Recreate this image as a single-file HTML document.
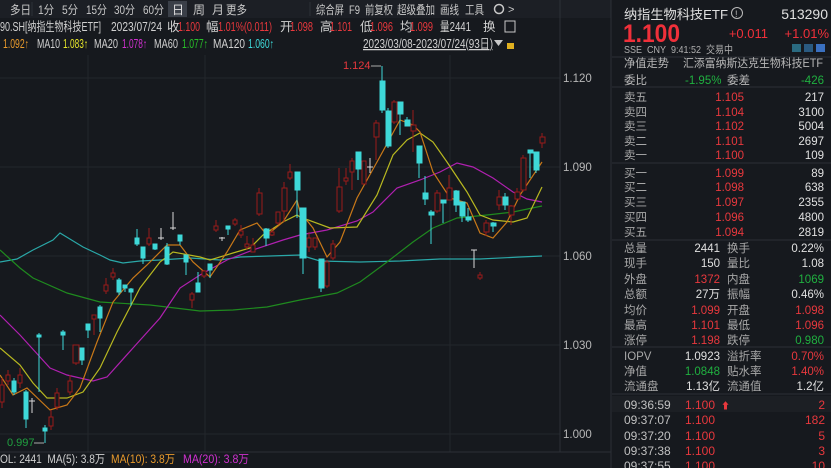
<!DOCTYPE html>
<html><head><meta charset="utf-8">
<style>
html,body{margin:0;padding:0;background:#16191e;width:831px;height:468px;overflow:hidden}
svg{display:block}
text{font-family:"Liberation Sans","Noto Sans CJK SC",sans-serif}
</style></head><body>
<svg width="831" height="468" viewBox="0 0 831 468" xmlns="http://www.w3.org/2000/svg">
<rect width="831" height="468" fill="#16191e"/>
<!-- toolbar -->
<rect x="0" y="0" width="611" height="18" fill="#1c1f25"/>
<rect x="168" y="1" width="19" height="16" fill="#3a3f48"/>
<g font-size="12" fill="#c8c8c8">
<text x="10" y="14" textLength="21" lengthAdjust="spacingAndGlyphs">多日</text>
<text x="38" y="14" textLength="16" lengthAdjust="spacingAndGlyphs">1分</text>
<text x="62" y="14" textLength="16" lengthAdjust="spacingAndGlyphs">5分</text>
<text x="86" y="14" textLength="21" lengthAdjust="spacingAndGlyphs">15分</text>
<text x="114" y="14" textLength="21" lengthAdjust="spacingAndGlyphs">30分</text>
<text x="143" y="14" textLength="21" lengthAdjust="spacingAndGlyphs">60分</text>
<text x="172" y="14" fill="#e0e0e0">日</text>
<text x="193" y="14">周</text><text x="212" y="14">月</text>
<text x="226" y="14" textLength="21" lengthAdjust="spacingAndGlyphs">更多</text>
<text x="316" y="14" textLength="28" lengthAdjust="spacingAndGlyphs">综合屏</text>
<text x="349" y="14" textLength="11" lengthAdjust="spacingAndGlyphs">F9</text>
<text x="365" y="14" textLength="28" lengthAdjust="spacingAndGlyphs">前复权</text>
<text x="397" y="14" textLength="38" lengthAdjust="spacingAndGlyphs">超级叠加</text>
<text x="440" y="14" textLength="19" lengthAdjust="spacingAndGlyphs">画线</text>
<text x="465" y="14" textLength="19" lengthAdjust="spacingAndGlyphs">工具</text>
</g>
<line x1="32" y1="2" x2="32" y2="16" stroke="#2c3036"/><line x1="310" y1="2" x2="310" y2="16" stroke="#2c3036"/>
<circle cx="499" cy="9" r="4.5" fill="none" stroke="#c8c8c8" stroke-width="1.5"/>
<text x="508" y="13" font-size="11" fill="#c8c8c8">&gt;</text>
<!-- info rows -->
<g font-size="12.5">
<text x="0" y="31" fill="#d0d0d0" textLength="101" lengthAdjust="spacingAndGlyphs">90.SH[纳指生物科技ETF]</text>
<text x="111" y="31" fill="#d0d0d0" textLength="51" lengthAdjust="spacingAndGlyphs">2023/07/24</text>
<text x="167" y="31" fill="#d0d0d0">收</text><text x="178" y="31" fill="#e8383d" textLength="22" lengthAdjust="spacingAndGlyphs">1.100</text>
<text x="206" y="31" fill="#d0d0d0">幅</text><text x="218" y="31" fill="#e8383d" textLength="54" lengthAdjust="spacingAndGlyphs">1.01%(0.011)</text>
<text x="280" y="31" fill="#d0d0d0">开</text><text x="290" y="31" fill="#e8383d" textLength="23" lengthAdjust="spacingAndGlyphs">1.098</text>
<text x="320" y="31" fill="#d0d0d0">高</text><text x="330" y="31" fill="#e8383d" textLength="22" lengthAdjust="spacingAndGlyphs">1.101</text>
<text x="360" y="31" fill="#d0d0d0">低</text><text x="370" y="31" fill="#e8383d" textLength="23" lengthAdjust="spacingAndGlyphs">1.096</text>
<text x="400" y="31" fill="#d0d0d0">均</text><text x="410" y="31" fill="#e8383d" textLength="23" lengthAdjust="spacingAndGlyphs">1.099</text>
<text x="440" y="31" fill="#d0d0d0" textLength="31" lengthAdjust="spacingAndGlyphs">量2441</text><text x="483" y="31" fill="#d0d0d0">换</text>
<text x="3" y="48" fill="#e89a2c" textLength="26" lengthAdjust="spacingAndGlyphs">1.092↑</text>
<text x="37" y="48" fill="#d0d0d0" textLength="23" lengthAdjust="spacingAndGlyphs">MA10</text><text x="63" y="48" fill="#e6e62a" textLength="25" lengthAdjust="spacingAndGlyphs">1.083↑</text>
<text x="94" y="48" fill="#d0d0d0" textLength="24" lengthAdjust="spacingAndGlyphs">MA20</text><text x="122" y="48" fill="#d030d0" textLength="25" lengthAdjust="spacingAndGlyphs">1.078↑</text>
<text x="154" y="48" fill="#d0d0d0" textLength="24" lengthAdjust="spacingAndGlyphs">MA60</text><text x="182" y="48" fill="#28c028" textLength="26" lengthAdjust="spacingAndGlyphs">1.077↑</text>
<text x="213" y="48" fill="#d0d0d0" textLength="32" lengthAdjust="spacingAndGlyphs">MA120</text><text x="248" y="48" fill="#3ed8d8" textLength="26" lengthAdjust="spacingAndGlyphs">1.060↑</text>
<text x="363" y="48" fill="#d0d0d0" text-decoration="underline" textLength="130" lengthAdjust="spacingAndGlyphs">2023/03/08-2023/07/24(93日)</text>
</g>
<rect x="505" y="21" width="10" height="11" fill="none" stroke="#c8c8c8"/>
<polygon points="494,40 503,40 498.5,46" fill="#c8c8c8"/>
<rect x="507" y="43" width="7" height="6" fill="#e0b020"/>
<!-- grid -->
<g stroke="#23262c" stroke-width="1">
<line x1="0" y1="78" x2="560" y2="78"/><line x1="0" y1="167" x2="560" y2="167"/><line x1="0" y1="256" x2="560" y2="256"/><line x1="0" y1="345" x2="560" y2="345"/><line x1="0" y1="434" x2="560" y2="434"/>
<line x1="88" y1="55" x2="88" y2="452"/><line x1="205" y1="55" x2="205" y2="452"/><line x1="450" y1="55" x2="450" y2="452"/>
</g>
<line x1="560" y1="0" x2="560" y2="452" stroke="#2c3036"/>
<line x1="0" y1="452" x2="611" y2="452" stroke="#2c3036"/>
<line x1="611" y1="0" x2="611" y2="468" stroke="#2c3036"/>
<g font-size="11.5" fill="#b8b8b8">
<text x="563" y="82">1.120</text><text x="563" y="171">1.090</text><text x="563" y="260">1.060</text><text x="563" y="349">1.030</text><text x="563" y="438">1.000</text>
</g>
<!-- MA lines -->
<g fill="none" stroke-width="1.2">
<polyline stroke="#2aa8a8" points="0,262 17,259 33,250 53,240 60,233 83,247 100,255 110,260 123,263 140,261 160,260 190,258 220,260 240,257 270,256 300,255 320,261 360,262 400,261 440,259 480,259 520,257 542,256"/>
<polyline stroke="#1f8a1f" points="0,250 20,268 33,278 67,293 100,302 150,305 200,311 233,310 267,307 300,300 337,293 360,282 387,262 413,242 433,228 457,218 487,215 513,212 542,206"/>
<polyline stroke="#b020b0" points="0,315 20,335 50,368 67,375 93,381 107,377 133,348 160,318 180,288 200,275 227,260 253,250 283,240 300,235 327,230 357,221 373,212 397,188 420,180 440,172 457,163 473,167 493,178 513,192 527,199 542,202"/>
<polyline stroke="#b8b820" points="0,348 20,365 33,383 47,398 67,398 83,392 100,368 117,332 140,288 160,262 173,252 200,257 210,260 233,253 250,248 263,235 283,222 297,215 300,217 330,228 357,227 377,195 393,155 407,140 420,133 433,142 447,162 467,192 480,215 493,220 513,222 527,218 542,187"/>
<polyline stroke="#c87818" points="0,375 13,395 27,388 50,410 67,405 80,388 97,342 113,302 133,278 147,265 167,245 180,245 193,262 210,277 227,252 240,230 257,223 267,235 283,222 297,200 300,212 313,228 327,257 340,242 357,198 377,162 400,120 413,125 420,132 433,172 450,198 467,203 480,233 493,238 507,222 520,195 542,162"/>
</g>
<!-- candles -->
<g stroke-width="1">
<g fill="#16191e" stroke="#9a1a1a">
<line x1="2" y1="378" x2="2" y2="408"/><rect x="0" y="385" width="4" height="17"/>
<line x1="8" y1="370" x2="8" y2="385"/><rect x="6" y="375" width="4" height="6"/>
<line x1="20" y1="368" x2="20" y2="388"/><rect x="18" y="375" width="4" height="8"/>
<line x1="51" y1="410" x2="51" y2="430"/><rect x="49" y="417" width="4" height="9"/>
<line x1="57" y1="388" x2="57" y2="410"/><rect x="55" y="393" width="4" height="14"/>
<line x1="70" y1="375" x2="70" y2="395"/><rect x="68" y="381" width="4" height="11"/>
<line x1="76" y1="345" x2="76" y2="365"/><rect x="73" y="345" width="6" height="18"/>
<line x1="94" y1="315" x2="94" y2="335"/><rect x="92" y="315" width="4" height="4"/>
<line x1="106" y1="278" x2="106" y2="294"/><rect x="104" y="285" width="4" height="6"/>
<line x1="113" y1="268" x2="113" y2="280"/><rect x="111" y="273" width="4" height="4"/>
<line x1="149" y1="228" x2="149" y2="246"/><rect x="147" y="238" width="4" height="6"/>
<line x1="192" y1="292" x2="192" y2="308"/><rect x="190" y="294" width="4" height="6"/>
<line x1="204" y1="270" x2="204" y2="278"/><rect x="202" y="271" width="4" height="5"/>
<line x1="216" y1="220" x2="216" y2="232"/><rect x="214" y="226" width="4" height="4"/>
<line x1="235" y1="218" x2="235" y2="226"/><rect x="233" y="220" width="4" height="4"/>
<line x1="241" y1="225" x2="241" y2="238"/><rect x="239" y="231" width="4" height="4"/>
<line x1="247" y1="236" x2="247" y2="250"/><rect x="245" y="244" width="4" height="3"/>
<line x1="253" y1="238" x2="253" y2="252"/><rect x="251" y="245" width="4" height="7"/>
<line x1="259" y1="188" x2="259" y2="216"/><rect x="257" y="193" width="5" height="21"/>
<line x1="272" y1="228" x2="272" y2="236"/><rect x="270" y="232" width="4" height="3"/>
<line x1="278" y1="212" x2="278" y2="225"/><rect x="276" y="212" width="4" height="11"/>
<line x1="284" y1="182" x2="284" y2="222"/><rect x="282" y="188" width="5" height="23"/>
<line x1="290" y1="164" x2="290" y2="180"/><rect x="288" y="172" width="4" height="6"/>
<line x1="309" y1="232" x2="309" y2="252"/><rect x="307" y="238" width="4" height="9"/>
<line x1="315" y1="238" x2="315" y2="250"/><rect x="313" y="238" width="4" height="9"/>
<line x1="327" y1="260" x2="327" y2="288"/><rect x="325" y="262" width="4" height="24"/>
<line x1="333" y1="240" x2="333" y2="260"/><rect x="331" y="244" width="4" height="14"/>
<line x1="339" y1="168" x2="339" y2="213"/><rect x="337" y="187" width="5" height="24"/>
<line x1="346" y1="168" x2="346" y2="185"/><rect x="344" y="178" width="4" height="3"/>
<line x1="352" y1="158" x2="352" y2="190"/><rect x="350" y="161" width="4" height="11"/>
<line x1="364" y1="165" x2="364" y2="180"/><rect x="362" y="161" width="4" height="23"/>
<line x1="376" y1="120" x2="376" y2="160"/><rect x="374" y="123" width="5" height="14"/>
<line x1="394" y1="100" x2="394" y2="124"/><rect x="392" y="102" width="5" height="20"/>
<line x1="413" y1="110" x2="413" y2="152"/><rect x="411" y="125" width="5" height="6"/>
<line x1="437" y1="190" x2="437" y2="213"/><rect x="435" y="193" width="5" height="18"/>
<line x1="449" y1="175" x2="449" y2="200"/><rect x="447" y="188" width="5" height="12"/>
<line x1="480" y1="272" x2="480" y2="280"/><rect x="478" y="275" width="4" height="3"/>
<line x1="486" y1="220" x2="486" y2="236"/><rect x="484" y="223" width="5" height="9"/>
<line x1="499" y1="190" x2="499" y2="210"/><rect x="497" y="197" width="5" height="8"/>
<line x1="511" y1="205" x2="511" y2="225"/><rect x="509" y="206" width="5" height="9"/>
<line x1="517" y1="188" x2="517" y2="200"/><rect x="515" y="192" width="5" height="7"/>
<line x1="523" y1="155" x2="523" y2="192"/><rect x="521" y="158" width="5" height="32"/>
<line x1="542" y1="133" x2="542" y2="148"/><rect x="540" y="137" width="5" height="6"/>
</g>
<g fill="#3ed8d8" stroke="#3ed8d8">
<line x1="14" y1="378" x2="14" y2="395"/><rect x="12" y="381" width="4" height="11"/>
<line x1="26" y1="390" x2="26" y2="428"/><rect x="24" y="392" width="4" height="27"/>
<line x1="39" y1="333" x2="39" y2="392"/><rect x="37" y="335" width="4" height="2"/>
<line x1="45" y1="425" x2="45" y2="443"/><rect x="43" y="428" width="4" height="3"/>
<line x1="63" y1="330" x2="63" y2="350"/><rect x="61" y="332" width="4" height="3"/>
<line x1="82" y1="348" x2="82" y2="365"/><rect x="80" y="348" width="4" height="12"/>
<line x1="88" y1="324" x2="88" y2="338"/><rect x="86" y="324" width="4" height="6"/>
<line x1="100" y1="305" x2="100" y2="332"/><rect x="98" y="307" width="4" height="11"/>
<line x1="119" y1="278" x2="119" y2="295"/><rect x="117" y="280" width="4" height="12"/>
<line x1="125" y1="285" x2="125" y2="292"/><rect x="123" y="285" width="4" height="3"/>
<line x1="131" y1="288" x2="131" y2="306"/><rect x="129" y="289" width="4" height="3"/>
<line x1="137" y1="229" x2="137" y2="246"/><rect x="135" y="238" width="4" height="6"/>
<line x1="143" y1="247" x2="143" y2="264"/><rect x="141" y="247" width="4" height="11"/>
<line x1="155" y1="244" x2="155" y2="250"/><rect x="153" y="244" width="4" height="5"/>
<line x1="167" y1="243" x2="167" y2="265"/><rect x="165" y="247" width="4" height="17"/>
<line x1="180" y1="235" x2="180" y2="245"/><rect x="178" y="235" width="4" height="6"/>
<line x1="186" y1="255" x2="186" y2="275"/><rect x="184" y="255" width="4" height="7"/>
<line x1="198" y1="272" x2="198" y2="292"/><rect x="196" y="283" width="4" height="9"/>
<line x1="210" y1="264" x2="210" y2="278"/><rect x="208" y="264" width="4" height="6"/>
<line x1="228" y1="226" x2="228" y2="235"/><rect x="226" y="226" width="4" height="3"/>
<line x1="266" y1="228" x2="266" y2="246"/><rect x="264" y="229" width="5" height="9"/>
<line x1="297" y1="172" x2="297" y2="218"/><rect x="295" y="172" width="5" height="18"/>
<line x1="303" y1="208" x2="303" y2="274"/><rect x="300" y="208" width="6" height="50"/>
<line x1="321" y1="259" x2="321" y2="292"/><rect x="319" y="259" width="5" height="29"/>
<line x1="358" y1="152" x2="358" y2="180"/><rect x="356" y="152" width="5" height="17"/>
<line x1="382" y1="66" x2="382" y2="113"/><rect x="380" y="81" width="5" height="29"/>
<line x1="388" y1="108" x2="388" y2="148"/><rect x="386" y="111" width="5" height="35"/>
<line x1="400" y1="102" x2="400" y2="135"/><rect x="398" y="102" width="5" height="12"/>
<line x1="407" y1="117" x2="407" y2="126"/><rect x="405" y="120" width="5" height="6"/>
<line x1="419" y1="146" x2="419" y2="178"/><rect x="417" y="146" width="5" height="17"/>
<line x1="425" y1="176" x2="425" y2="205"/><rect x="423" y="193" width="5" height="6"/>
<line x1="431" y1="210" x2="431" y2="244"/><rect x="429" y="212" width="5" height="3"/>
<line x1="443" y1="200" x2="443" y2="223"/><rect x="441" y="200" width="5" height="3"/>
<line x1="456" y1="190" x2="456" y2="212"/><rect x="454" y="191" width="5" height="14"/>
<line x1="462" y1="202" x2="462" y2="222"/><rect x="460" y="202" width="5" height="14"/>
<line x1="468" y1="208" x2="468" y2="222"/><rect x="466" y="217" width="5" height="3"/>
<line x1="493" y1="222" x2="493" y2="232"/><rect x="491" y="223" width="5" height="3"/>
<line x1="505" y1="193" x2="505" y2="210"/><rect x="503" y="197" width="5" height="8"/>
<line x1="530" y1="150" x2="530" y2="178"/><rect x="528" y="150" width="5" height="3"/>
<line x1="536" y1="152" x2="536" y2="173"/><rect x="534" y="152" width="5" height="18"/>
</g>
<g stroke="#d8d8d8">
<line x1="32" y1="398" x2="32" y2="413"/><line x1="29" y1="401" x2="35" y2="401"/>
<line x1="161" y1="228" x2="161" y2="240"/><line x1="158" y1="238" x2="164" y2="238"/>
<line x1="173" y1="212" x2="173" y2="230"/><line x1="170" y1="228" x2="176" y2="228"/>
<line x1="222" y1="237" x2="222" y2="241"/><line x1="219" y1="238" x2="225" y2="238"/>
<line x1="370" y1="158" x2="370" y2="173"/><line x1="367" y1="167" x2="373" y2="167"/>
<line x1="474" y1="250" x2="474" y2="268"/><line x1="471" y1="250" x2="477" y2="250"/>
</g>
</g>
<text x="343" y="69" font-size="11" fill="#e8383d">1.124</text>
<line x1="371" y1="66" x2="381" y2="66" stroke="#aaa"/>
<text x="7" y="446" font-size="11" fill="#20a040">0.997</text>
<line x1="34" y1="443" x2="44" y2="443" stroke="#aaa"/>
<g font-size="11.5">
<text x="0" y="463" fill="#d0d0d0" textLength="105" lengthAdjust="spacingAndGlyphs">OL: 2441&#160; MA(5): 3.8万</text>
<text x="111" y="463" fill="#e89a2c" textLength="64" lengthAdjust="spacingAndGlyphs">MA(10): 3.8万</text>
<text x="183" y="463" fill="#d030d0" textLength="66" lengthAdjust="spacingAndGlyphs">MA(20): 3.8万</text>
</g>
<!-- right panel -->
<rect x="612" y="0" width="219" height="468" fill="#16191e"/>
<text x="624" y="19" font-size="13" fill="#e0e0e0" textLength="104" lengthAdjust="spacingAndGlyphs">纳指生物科技ETF</text>
<text x="828" y="19" text-anchor="end" font-size="14" fill="#e0e0e0">513290</text>
<circle cx="737" cy="13" r="5.5" fill="none" stroke="#bbb"/>
<text x="735" y="17" font-size="9" fill="#bbb">!</text>
<text x="623" y="42" font-size="25" font-weight="bold" fill="#f0303a" textLength="57" lengthAdjust="spacingAndGlyphs">1.100</text>
<text x="768" y="38" font-size="13" fill="#f0303a" text-anchor="end">+0.011</text>
<text x="829" y="38" font-size="13" fill="#f0303a" text-anchor="end">+1.01%</text>
<text x="624" y="53" font-size="10.5" fill="#b0b0b0" textLength="109" lengthAdjust="spacingAndGlyphs">SSE&#160; CNY&#160; 9:41:52&#160; 交易中</text>
<rect x="792" y="44" width="9" height="8" fill="#2a6a80"/><rect x="804" y="44" width="9" height="8" fill="#2a5a80"/><rect x="816" y="44" width="9" height="8" fill="#3a70c0"/>
<g stroke="#2c3036"><line x1="612" y1="57" x2="831" y2="57"/><line x1="612" y1="87" x2="831" y2="87"/><line x1="612" y1="163" x2="831" y2="163"/><line x1="612" y1="240" x2="831" y2="240"/><line x1="612" y1="347" x2="831" y2="347"/><line x1="612" y1="394" x2="831" y2="394"/></g>
<g font-size="11.5" fill="#b8b8b8">
<text x="624" y="67" textLength="45" lengthAdjust="spacingAndGlyphs">净值走势</text><text x="683" y="67" textLength="140" lengthAdjust="spacingAndGlyphs">汇添富纳斯达克生物科技ETF</text>
<text x="624" y="84">委比</text><text x="685" y="84" fill="#20b040">-1.95%</text><text x="727" y="84">委差</text><text x="824" y="84" fill="#20b040" text-anchor="end">-426</text>
</g>
<g font-size="11.5" fill="#a8a8a8">
<text x="624" y="101">卖五</text><text x="624" y="116">卖四</text><text x="624" y="130">卖三</text><text x="624" y="145">卖二</text><text x="624" y="159">卖一</text>
<text x="624" y="177">买一</text><text x="624" y="191">买二</text><text x="624" y="206">买三</text><text x="624" y="221">买四</text><text x="624" y="236">买五</text>
</g>
<g font-size="11.5" fill="#e8383d" text-anchor="end">
<text x="744" y="101">1.105</text><text x="744" y="116">1.104</text><text x="744" y="130">1.102</text><text x="744" y="145">1.101</text><text x="744" y="159">1.100</text>
<text x="744" y="177">1.099</text><text x="744" y="191">1.098</text><text x="744" y="206">1.097</text><text x="744" y="221">1.096</text><text x="744" y="236">1.094</text>
</g>
<g font-size="11.5" fill="#e0e0e0" text-anchor="end">
<text x="824" y="101">217</text><text x="824" y="116">3100</text><text x="824" y="130">5004</text><text x="824" y="145">2697</text><text x="824" y="159">109</text>
<text x="824" y="177">89</text><text x="824" y="191">638</text><text x="824" y="206">2355</text><text x="824" y="221">4800</text><text x="824" y="236">2819</text>
</g>
<g font-size="11.5" fill="#a8a8a8">
<text x="624" y="252">总量</text><text x="624" y="267">现手</text><text x="624" y="283">外盘</text><text x="624" y="298">总额</text><text x="624" y="314">均价</text><text x="624" y="329">最高</text><text x="624" y="344">涨停</text>
<text x="727" y="252">换手</text><text x="727" y="267">量比</text><text x="727" y="283">内盘</text><text x="727" y="298">振幅</text><text x="727" y="314">开盘</text><text x="727" y="329">最低</text><text x="727" y="344">跌停</text>
<text x="624" y="360">IOPV</text><text x="624" y="375">净值</text><text x="624" y="390">流通盘</text>
<text x="727" y="360">溢折率</text><text x="727" y="375">贴水率</text><text x="727" y="390">流通值</text>
</g>
<g font-size="11.5" text-anchor="end">
<text x="720" y="252" fill="#e0e0e0">2441</text><text x="720" y="267" fill="#e0e0e0">150</text><text x="720" y="283" fill="#e8383d">1372</text><text x="720" y="298" fill="#e0e0e0">27万</text><text x="720" y="314" fill="#e8383d">1.099</text><text x="720" y="329" fill="#e8383d">1.101</text><text x="720" y="344" fill="#e8383d">1.198</text>
<text x="824" y="252" fill="#e0e0e0">0.22%</text><text x="824" y="267" fill="#e0e0e0">1.08</text><text x="824" y="283" fill="#20b040">1069</text><text x="824" y="298" fill="#e0e0e0">0.46%</text><text x="824" y="314" fill="#e8383d">1.098</text><text x="824" y="329" fill="#e8383d">1.096</text><text x="824" y="344" fill="#20b040">0.980</text>
<text x="720" y="360" fill="#e0e0e0">1.0923</text><text x="720" y="375" fill="#20b040">1.0848</text><text x="720" y="390" fill="#e0e0e0">1.13亿</text>
<text x="824" y="360" fill="#e8383d">0.70%</text><text x="824" y="375" fill="#e8383d">1.40%</text><text x="824" y="390" fill="#e0e0e0">1.2亿</text>
</g>
<rect x="612" y="396" width="219" height="16" fill="#1c1f24"/>
<g font-size="12" fill="#c0c0c0">
<text x="624" y="409">09:36:59</text><text x="624" y="424">09:37:07</text><text x="624" y="440">09:37:20</text><text x="624" y="455">09:37:38</text><text x="624" y="470">09:37:55</text>
</g>
<g font-size="12" fill="#e8383d">
<text x="685" y="409">1.100</text><text x="685" y="424">1.100</text><text x="685" y="440">1.100</text><text x="685" y="455">1.100</text><text x="685" y="470">1.100</text>
<text x="721" y="409" font-size="9">⬆</text>
</g>
<g font-size="12" fill="#e8383d" text-anchor="end">
<text x="825" y="409">2</text><text x="825" y="424">182</text><text x="825" y="440">5</text><text x="825" y="455">3</text><text x="825" y="470">10</text>
</g>
</svg>
</body></html>
